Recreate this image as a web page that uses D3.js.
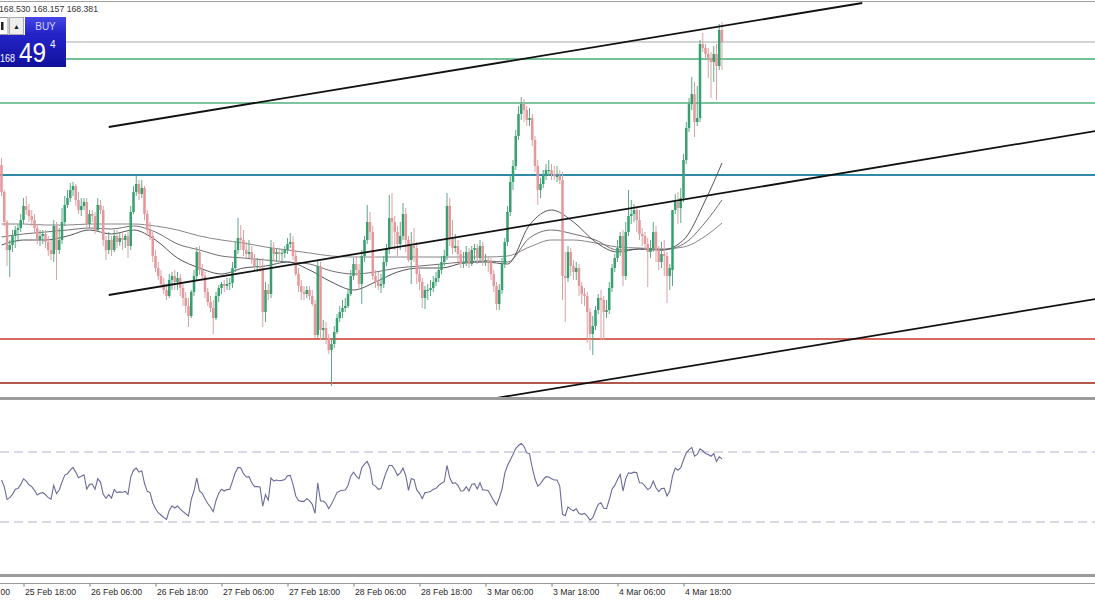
<!DOCTYPE html>
<html><head><meta charset="utf-8">
<script src="https://cdn.jsdelivr.net/npm/d3@7"></script>
<style>body{margin:0;background:#fff;} svg{display:block;font-family:"Liberation Sans",Arial,sans-serif;}</style>
</head><body><svg id="c" width="1095" height="600"></svg>
<script>
// ---- data (M30 bars, index 0 .. 262) ----
const opens=[167.35,167.08,166.78,166.50,166.55,166.64,166.70,166.72,166.80,166.94,
166.90,166.84,166.80,166.72,166.60,166.64,166.66,166.58,166.50,166.46,
166.74,166.50,166.60,166.78,166.95,167.02,167.10,167.14,167.00,166.90,
166.94,166.98,166.76,166.86,166.84,166.70,166.95,166.90,166.60,166.50,
166.60,166.50,166.64,166.58,166.62,166.60,166.64,166.54,166.88,167.08,
167.16,167.06,167.12,166.86,166.70,166.64,166.44,166.32,166.24,166.16,
166.10,166.04,166.20,166.24,166.18,166.22,166.12,166.02,165.94,165.84,
166.08,166.24,166.48,166.30,166.24,166.08,165.98,165.92,165.82,166.04,
166.12,166.16,166.14,166.16,166.17,166.32,166.50,166.62,166.60,166.50,
166.46,166.48,166.40,166.34,166.34,166.32,165.88,166.10,166.06,166.52,
166.46,166.48,166.46,166.47,166.50,166.56,166.58,166.44,166.26,166.14,
166.08,166.06,166.10,166.04,165.96,165.65,166.34,165.70,165.72,165.62,
165.50,165.56,165.68,165.82,165.88,165.92,165.94,166.06,166.24,166.36,
166.30,166.16,166.44,166.60,166.78,166.68,166.24,166.18,166.14,166.16,
166.38,166.52,166.82,166.78,166.68,166.56,166.64,166.86,166.60,166.40,
166.54,166.52,166.26,166.18,166.02,166.10,166.10,166.12,166.18,166.22,
166.30,166.38,166.44,166.94,166.62,166.52,166.54,166.46,166.36,166.38,
166.48,166.36,166.50,166.52,166.42,166.54,166.40,166.40,166.38,166.26,
166.14,165.96,166.10,166.36,166.58,166.88,167.18,167.34,167.64,167.86,
167.96,167.90,167.80,167.82,167.60,167.34,167.10,167.16,167.24,167.30,
167.30,167.26,167.24,167.24,167.20,166.24,166.22,166.48,166.34,166.28,
166.32,166.14,166.06,166.04,165.88,165.66,165.74,165.90,166.02,166.00,
165.88,165.90,166.12,166.32,166.42,166.52,166.64,166.24,166.68,166.84,
166.86,166.90,166.80,166.66,166.64,166.56,166.48,166.52,166.68,166.50,
166.38,166.46,166.44,166.24,166.30,166.90,166.98,166.92,167.02,167.40,
167.72,167.96,168.06,167.78,167.82,168.56,168.52,168.46,168.42,168.38,
168.46,168.34,168.70];
const highs=[167.42,167.10,166.80,166.60,166.70,166.74,166.76,166.86,167.02,167.04,
166.96,166.90,166.86,166.76,166.70,166.70,166.70,166.64,166.60,166.80,
166.78,166.72,166.92,167.04,167.10,167.17,167.18,167.16,167.08,167.02,
167.02,167.02,166.90,166.90,166.88,167.02,167.00,166.94,166.64,166.68,
166.64,166.70,166.70,166.68,166.68,166.66,166.68,166.94,167.14,167.24,
167.20,167.20,167.14,166.90,166.78,166.68,166.50,166.38,166.30,166.22,
166.16,166.26,166.28,166.30,166.28,166.26,166.16,166.08,166.02,166.10,
166.30,166.53,166.54,166.36,166.28,166.12,166.04,166.00,166.08,166.15,
166.18,166.20,166.22,166.22,166.38,166.58,166.82,166.75,166.70,166.58,
166.60,166.54,166.46,166.42,166.40,166.42,166.18,166.16,166.60,166.58,
166.52,166.52,166.50,166.54,166.62,166.67,166.64,166.48,166.32,166.20,
166.14,166.14,166.14,166.10,166.00,166.40,166.38,165.80,165.78,165.66,
165.60,165.74,165.86,165.94,166.00,166.02,166.10,166.30,166.42,166.44,
166.36,166.50,166.64,166.95,166.88,166.74,166.30,166.28,166.26,166.44,
166.56,167.05,167.07,166.84,166.74,166.78,166.97,166.92,166.64,166.68,
166.72,166.58,166.32,166.22,166.14,166.16,166.20,166.24,166.28,166.36,
166.44,166.50,167.07,167.02,166.80,166.66,166.60,166.50,166.48,166.54,
166.52,166.54,166.56,166.56,166.60,166.58,166.46,166.44,166.42,166.30,
166.18,166.16,166.42,166.62,166.94,167.24,167.40,167.70,167.94,168.03,
168.01,167.94,167.92,167.86,167.64,167.40,167.22,167.30,167.36,167.40,
167.36,167.34,167.34,167.30,167.28,166.48,166.54,166.52,166.40,166.38,
166.36,166.18,166.12,166.08,165.92,165.84,165.94,166.06,166.10,166.04,
166.00,166.18,166.36,166.46,166.60,166.68,166.70,166.78,167.10,167.00,
166.96,166.94,166.90,166.72,166.68,166.62,166.60,166.78,166.74,166.54,
166.58,166.60,166.48,166.36,166.54,167.06,167.08,167.12,167.46,167.78,
168.02,168.23,168.18,168.14,168.60,168.67,168.56,168.52,168.48,168.54,
168.56,168.76,168.78];
const lows=[167.04,166.74,166.34,166.23,166.48,166.52,166.58,166.68,166.76,166.85,
166.78,166.74,166.66,166.56,166.54,166.56,166.52,166.44,166.40,166.38,
166.20,166.46,166.56,166.74,166.92,166.98,167.04,166.94,166.86,166.84,
166.90,166.70,166.72,166.78,166.66,166.68,166.86,166.54,166.40,166.46,
166.44,166.48,166.52,166.54,166.50,166.52,166.42,166.50,166.86,167.04,
167.00,167.02,166.80,166.64,166.60,166.38,166.28,166.20,166.12,166.06,
166.00,166.02,166.10,166.10,166.10,166.04,165.94,165.87,165.73,165.82,
166.04,166.20,166.25,166.20,166.02,165.94,165.88,165.66,165.80,165.98,
166.06,166.08,166.10,166.10,166.12,166.28,166.46,166.50,166.44,166.42,
166.42,166.36,166.30,166.28,166.28,165.73,165.78,166.00,166.02,166.40,
166.38,166.36,166.38,166.42,166.46,166.52,166.40,166.24,166.08,166.00,
166.00,166.02,166.00,165.94,165.62,165.62,165.60,165.60,165.56,165.46,
165.14,165.52,165.66,165.78,165.82,165.88,165.92,166.04,166.20,166.24,
166.10,165.96,166.38,166.56,166.60,166.20,166.12,166.10,166.07,166.12,
166.34,166.46,166.52,166.50,166.44,166.50,166.60,166.48,166.38,166.16,
166.38,166.16,166.10,165.92,165.91,166.00,166.04,166.08,166.14,166.18,
166.26,166.34,166.40,166.54,166.46,166.48,166.38,166.32,166.32,166.34,
166.32,166.34,166.40,166.36,166.38,166.34,166.34,166.28,166.20,166.08,
165.90,165.90,166.06,166.32,166.54,166.84,167.10,167.30,167.60,167.80,
167.78,167.74,167.74,167.54,167.28,166.95,167.02,167.12,167.20,167.24,
167.20,167.20,167.18,167.16,166.00,165.78,166.18,166.24,166.20,166.20,
166.04,165.96,165.94,165.57,165.50,165.45,165.70,165.86,165.60,165.60,
165.82,165.86,166.08,166.28,166.38,166.44,166.14,166.20,166.64,166.76,
166.78,166.68,166.60,166.54,166.50,166.13,166.42,166.48,166.38,166.30,
166.32,166.24,165.97,166.10,166.14,166.86,166.76,166.77,166.98,167.36,
167.68,167.90,167.63,167.74,167.78,168.48,168.42,168.22,168.02,168.18,
168.00,168.30,168.30];
const closes=[167.08,166.78,166.50,166.55,166.64,166.70,166.72,166.80,166.94,166.90,
166.84,166.80,166.72,166.60,166.64,166.66,166.58,166.50,166.46,166.74,
166.50,166.60,166.78,166.95,167.02,167.10,167.14,167.00,166.90,166.94,
166.98,166.76,166.86,166.84,166.70,166.95,166.90,166.60,166.50,166.60,
166.50,166.64,166.58,166.62,166.60,166.64,166.54,166.88,167.08,167.16,
167.06,167.12,166.86,166.70,166.64,166.44,166.32,166.24,166.16,166.10,
166.04,166.20,166.24,166.18,166.22,166.12,166.02,165.94,165.84,166.08,
166.24,166.48,166.30,166.24,166.08,165.98,165.92,165.82,166.04,166.12,
166.16,166.14,166.16,166.17,166.32,166.50,166.62,166.60,166.50,166.46,
166.48,166.40,166.34,166.34,166.32,165.88,166.10,166.06,166.52,166.46,
166.48,166.46,166.47,166.50,166.56,166.58,166.44,166.26,166.14,166.08,
166.06,166.10,166.04,165.96,165.65,166.34,165.70,165.72,165.62,165.50,
165.56,165.68,165.82,165.88,165.92,165.94,166.06,166.24,166.36,166.30,
166.16,166.44,166.60,166.78,166.68,166.24,166.18,166.14,166.16,166.38,
166.52,166.82,166.78,166.68,166.56,166.64,166.86,166.60,166.40,166.54,
166.52,166.26,166.18,166.02,166.10,166.10,166.12,166.18,166.22,166.30,
166.38,166.44,166.94,166.62,166.52,166.54,166.46,166.36,166.38,166.48,
166.36,166.50,166.52,166.42,166.54,166.40,166.40,166.38,166.26,166.14,
165.96,166.10,166.36,166.58,166.88,167.18,167.34,167.64,167.86,167.96,
167.90,167.80,167.82,167.60,167.34,167.10,167.16,167.24,167.30,167.30,
167.26,167.24,167.24,167.20,166.24,166.22,166.48,166.34,166.28,166.32,
166.14,166.06,166.04,165.88,165.66,165.74,165.90,166.02,166.00,165.88,
165.90,166.12,166.32,166.42,166.52,166.64,166.24,166.68,166.84,166.86,
166.90,166.80,166.66,166.64,166.56,166.48,166.52,166.68,166.50,166.38,
166.46,166.44,166.24,166.32,166.90,166.98,166.92,167.02,167.40,167.72,
167.96,168.06,167.78,167.82,168.56,168.52,168.46,168.42,168.38,168.46,
168.34,168.70,168.58];
const rsiValues=[54.0,50.2,42.9,43.9,45.8,48.7,49.1,51.5,54.7,53.4,
51.3,50.2,48.1,45.4,46.4,46.8,45.6,43.9,43.1,50.9,
46.2,48.3,52.8,56.8,57.6,59.6,61.2,58.5,55.3,56.1,
57.0,48.7,51.5,51.7,48.7,54.7,52.8,45.8,43.5,45.6,
43.7,48.5,46.8,47.2,47.0,47.5,45.8,55.7,59.6,60.8,
58.5,59.3,52.1,47.5,46.8,41.0,37.6,35.3,34.0,32.6,
31.5,36.6,39.3,38.0,39.1,37.4,35.9,34.7,33.4,42.9,
47.7,55.1,47.7,46.4,43.3,40.6,38.4,35.9,42.3,46.4,
48.7,47.7,48.5,48.7,53.4,58.1,61.2,61.0,57.6,55.7,
55.9,52.4,50.2,50.2,50.0,39.1,45.6,42.5,55.1,53.4,
54.0,53.6,53.8,54.3,56.4,56.6,51.5,44.9,42.3,41.8,
41.8,43.3,42.2,40.1,34.9,52.4,42.0,42.0,40.6,37.6,
40.3,43.5,46.8,47.7,48.1,48.3,50.9,56.2,58.5,56.2,
54.7,61.0,63.1,64.6,61.0,51.5,50.5,48.7,49.1,54.3,
58.9,62.3,62.3,60.0,56.6,58.1,60.8,56.6,48.1,54.7,
54.3,48.3,46.4,43.3,46.8,47.0,47.4,48.7,49.2,50.9,
52.1,53.0,62.3,55.3,52.1,52.4,50.9,47.7,47.9,50.2,
47.7,51.5,51.9,48.9,52.4,48.3,48.3,47.9,45.0,42.2,
39.7,43.7,48.7,57.8,62.3,65.4,68.6,72.0,73.7,74.9,
73.3,69.5,69.1,61.0,54.7,50.5,51.9,54.2,55.9,55.7,
54.7,54.0,54.0,50.5,34.4,33.6,38.6,37.2,36.4,37.6,
34.9,34.4,34.9,33.4,31.1,32.5,36.4,40.1,41.0,37.8,
37.6,42.7,48.7,50.9,54.3,57.2,47.7,54.7,58.1,57.8,
58.5,58.1,52.4,52.3,50.5,48.5,49.6,53.4,49.6,47.4,
49.1,49.2,44.9,47.7,56.2,60.8,59.6,61.0,65.4,69.5,
71.2,72.6,67.6,68.6,71.8,70.7,69.1,68.6,67.6,69.1,
64.6,67.3,66.1];
// moving averages at every 8th bar
const maIdx=[0,8,16,24,32,40,48,56,64,72,80,88,96,104,112,120,128,136,144,152,160,168,176,184,192,200,208,216,224,232,240,248,256,262];
const maSlow=[166.76,166.76,166.75,166.75,166.76,166.76,166.76,166.74,166.70,166.64,166.60,166.57,166.53,166.50,166.47,166.44,166.43,166.43,166.43,166.43,166.43,166.43,166.43,166.44,166.53,166.60,166.60,166.57,166.53,166.52,166.51,166.53,166.64,166.77];
const maMid=[166.63,166.66,166.68,166.70,166.72,166.71,166.74,166.68,166.56,166.50,166.44,166.42,166.40,166.38,166.36,166.29,166.26,166.28,166.32,166.34,166.36,166.38,166.39,166.38,166.62,166.70,166.66,166.60,166.50,166.51,166.50,166.56,166.78,167.00];
const maFast=[166.55,166.60,166.60,166.64,166.70,166.66,166.70,166.60,166.42,166.32,166.26,166.32,166.34,166.38,166.30,166.18,166.10,166.18,166.28,166.32,166.32,166.37,166.38,166.36,166.75,166.90,166.78,166.58,166.48,166.51,166.50,166.60,167.00,167.37];
// horizontal levels
const levelPrices=[168.58,168.41,167.97,167.25,165.61,165.17];
const levelColors=['#a9a9a9','#74c296','#7cc49b','#2f88a8','#d76a5c','#b0574e'];
const levelWidths=[1,2,2,2,2,2];
// trend lines [startBar, startPrice, endBar, endPrice]
const trendLines=[[39,167.73,313,168.97],[39,166.05,398,167.69],[180,165.02,398,166.01]];
// time axis
const tickIdx=[-16,8,32,56,80,104,128,152,176,200,224,248];
const tickLabels=["25 Feb 06:00","25 Feb 18:00","26 Feb 06:00","26 Feb 18:00","27 Feb 06:00","27 Feb 18:00","28 Feb 06:00","28 Feb 18:00","3 Mar 06:00","3 Mar 18:00","4 Mar 06:00","4 Mar 18:00"];
const rsiLevels=[70,30];
const headerText="168.530 168.157 168.381";

// ---- drawing ----
const W=1095,H=600;
const svg=d3.select('#c');
svg.append('rect').attr('width',W).attr('height',H).attr('fill','#fff');
const defs=svg.append('defs');
defs.append('clipPath').attr('id','mainClip').append('rect').attr('x',0).attr('y',0).attr('width',W).attr('height',397);
defs.append('clipPath').attr('id','rsiClip').append('rect').attr('x',0).attr('y',400).attr('width',W).attr('height',174);
const gBuy=defs.append('linearGradient').attr('id','gBuy').attr('x1',0).attr('y1',0).attr('x2',0).attr('y2',1);
gBuy.append('stop').attr('offset',0).attr('stop-color','#4646e6');
gBuy.append('stop').attr('offset',1).attr('stop-color','#2222c4');
const gPan=defs.append('linearGradient').attr('id','gPan').attr('x1',0).attr('y1',0).attr('x2',0).attr('y2',1);
gPan.append('stop').attr('offset',0).attr('stop-color','#2424c8');
gPan.append('stop').attr('offset',1).attr('stop-color','#10109c');

const n=closes.length;
const x=d3.scaleLinear().domain([0,262]).range([1.5,722]);
const y=d3.scaleLinear().domain([169,165]).range([0,400]);
const yR=d3.scaleLinear().domain([0,100]).range([574.5,399.5]);

// top border
svg.append('line').attr('x1',0).attr('x2',W).attr('y1',1.5).attr('y2',1.5).attr('stroke','#a0a0a0').attr('stroke-width',1);

const main=svg.append('g').attr('clip-path','url(#mainClip)');
// levels
main.selectAll('line.lvl').data(levelPrices).enter().append('line').attr('class','lvl')
  .attr('x1',0).attr('x2',W).attr('y1',d=>y(d)).attr('y2',d=>y(d))
  .attr('stroke',(d,i)=>levelColors[i]).attr('stroke-width',(d,i)=>levelWidths[i]);
// moving averages
const maLine=arr=>d3.line().x((d,i)=>x(maIdx[i])).y(d=>y(d)).curve(d3.curveMonotoneX)(arr);
[[maSlow,'#8a8489'],[maMid,'#756e74'],[maFast,'#58535a']].forEach(([arr,c])=>{
  main.append('path').attr('d',maLine(arr)).attr('fill','none').attr('stroke',c).attr('stroke-width',1);
});
// candles
const idx=d3.range(n);
const green='#36a070', red='#e5979a';
main.selectAll('line.wick').data(idx).enter().append('line').attr('class','wick')
  .attr('x1',i=>x(i)).attr('x2',i=>x(i)).attr('y1',i=>y(highs[i])).attr('y2',i=>y(lows[i]))
  .attr('stroke',i=>closes[i]>=opens[i]?'#5fa887':'#d9a3a5').attr('stroke-width',1);
main.selectAll('rect.body').data(idx).enter().append('rect').attr('class','body')
  .attr('x',i=>x(i)-1.25).attr('width',2.5)
  .attr('y',i=>y(Math.max(opens[i],closes[i])))
  .attr('height',i=>Math.max(1,Math.abs(y(opens[i])-y(closes[i]))))
  .attr('fill',i=>closes[i]>=opens[i]?green:red);
// trend lines
main.selectAll('line.tl').data(trendLines).enter().append('line').attr('class','tl')
  .attr('x1',d=>x(d[0])).attr('y1',d=>y(d[1])).attr('x2',d=>x(d[2])).attr('y2',d=>y(d[3]))
  .attr('stroke','#111').attr('stroke-width',1.8);

// separators
svg.append('rect').attr('x',0).attr('y',397).attr('width',W).attr('height',3).attr('fill','#9c9c9c');
svg.append('rect').attr('x',0).attr('y',574).attr('width',W).attr('height',3).attr('fill','#9c9c9c');

// RSI panel
const rsiG=svg.append('g').attr('clip-path','url(#rsiClip)');
rsiG.selectAll('line.rl').data(rsiLevels).enter().append('line')
  .attr('x1',0).attr('x2',W).attr('y1',d=>yR(d)).attr('y2',d=>yR(d))
  .attr('stroke','#b3b1c6').attr('stroke-width',1).attr('stroke-dasharray','9,5');
rsiG.append('path').attr('d',d3.line().x((d,i)=>x(i)).y(d=>yR(d))(rsiValues))
  .attr('fill','none').attr('stroke','#6b6b9b').attr('stroke-width',1.1);

// time axis
svg.append('line').attr('x1',0).attr('x2',W).attr('y1',583.5).attr('y2',583.5).attr('stroke','#9a9a9a');
const ax=svg.append('g').attr('transform','translate(0,583.5)')
  .call(d3.axisBottom(x).tickValues(tickIdx).tickFormat((d,i)=>tickLabels[i]).tickSize(3).tickSizeOuter(0));
ax.select('.domain').remove();
ax.selectAll('.tick line').attr('stroke','#777');
ax.selectAll('.tick text').attr('text-anchor','start').attr('x',1).attr('y',5)
  .attr('fill','#2a2a2a').style('font-size','8.7px').style('font-family','"Liberation Sans",Arial,sans-serif');

// header
svg.append('text').attr('x',-1).attr('y',11.5).text(headerText)
  .attr('fill','#333').style('font-size','8.7px');

// one-click trading panel
const p=svg.append('g');
p.append('rect').attr('x',-1).attr('y',17.5).attr('width',9).attr('height',17).attr('fill','#fff').attr('stroke','#999');
p.append('rect').attr('x',1).attr('y',22).attr('width',2.5).attr('height',8).attr('fill','#222');
p.append('rect').attr('x',9.5).attr('y',17.5).attr('width',14).attr('height',17).attr('fill','#eeeeee').attr('stroke','#aaa');
p.append('text').attr('x',16.5).attr('y',29).attr('text-anchor','middle').text('▲').attr('fill','#222').style('font-size','7px');
p.append('rect').attr('x',25).attr('y',17).attr('width',41).attr('height',18).attr('fill','url(#gBuy)');
p.append('text').attr('x',45.5).attr('y',30).attr('text-anchor','middle').text('BUY').attr('fill','#d0d6ff').style('font-size','10px');
p.append('rect').attr('x',0).attr('y',35).attr('width',66).attr('height',32).attr('fill','url(#gPan)');
p.append('text').attr('x',0).attr('y',61.5).text('168').attr('fill','#fff').style('font-size','11px').attr('textLength',15).attr('lengthAdjust','spacingAndGlyphs');
p.append('text').attr('x',19).attr('y',62).text('49').attr('fill','#fff').style('font-size','28px').attr('textLength',27).attr('lengthAdjust','spacingAndGlyphs');
p.append('text').attr('x',50).attr('y',48).text('4').attr('fill','#fff').style('font-size','10px');
</script></body></html>
